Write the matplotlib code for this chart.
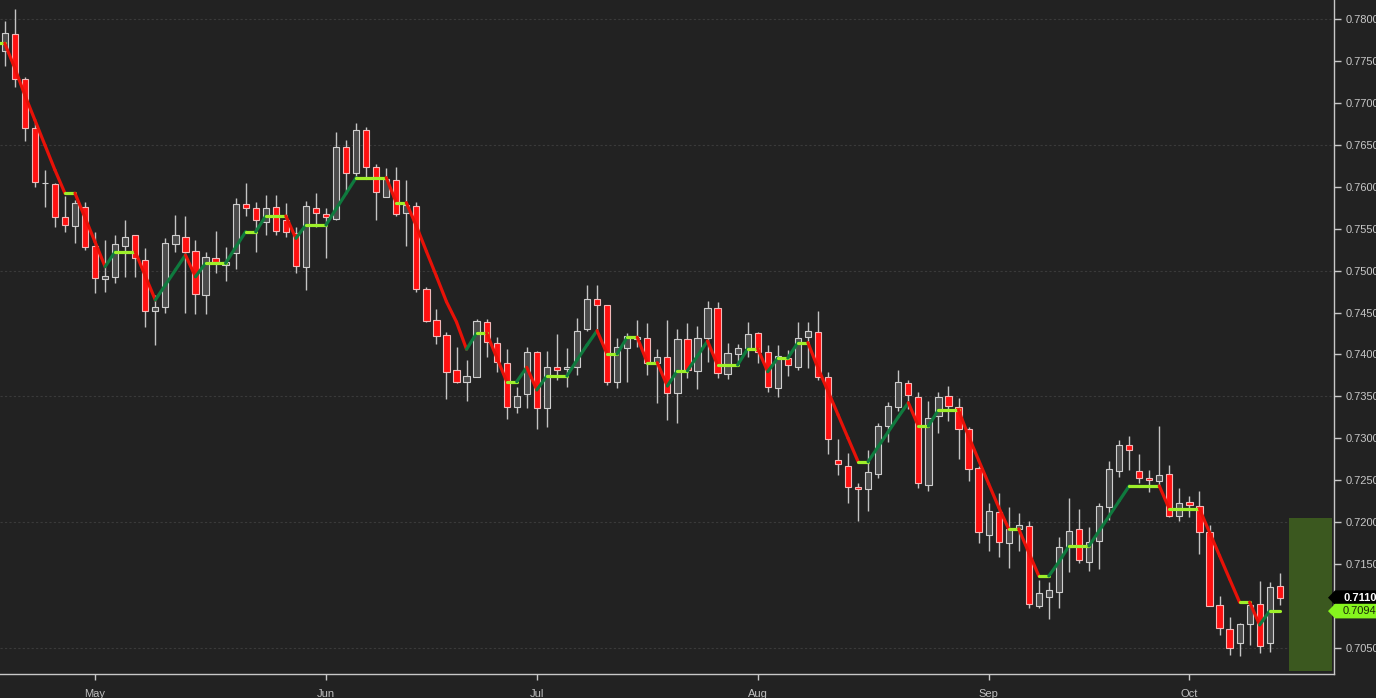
import numpy as np
import pandas as pd
import matplotlib
matplotlib.use("Agg")
import matplotlib.pyplot as plt
from matplotlib.collections import LineCollection
from matplotlib.patches import Polygon, Rectangle

# ---------------- data ----------------
dates = pd.bdate_range("2018-04-18", periods=128)

open_ = [
    0.77618, 0.77821, 0.77285, 0.76700, 0.76045, 0.76033, 0.75639, 0.75532, 0.75758, 0.75293,
    0.74900, 0.74924, 0.75293, 0.75425, 0.75127, 0.74519, 0.74566, 0.75317, 0.75401, 0.75234,
    0.74709, 0.75150, 0.75067, 0.75210, 0.75794, 0.75747, 0.75580, 0.75758, 0.75603, 0.75448,
    0.75043, 0.75747, 0.75675, 0.75621, 0.76477, 0.76160, 0.76677, 0.76239, 0.75881, 0.76080,
    0.75683, 0.75770, 0.74781, 0.74411, 0.74232, 0.73815, 0.73676, 0.73735, 0.74391, 0.74133,
    0.73895, 0.73377, 0.73525, 0.74026, 0.73358, 0.73847, 0.73823, 0.73854, 0.74304, 0.74658,
    0.74586, 0.73668, 0.74081, 0.74185, 0.74193, 0.73895, 0.73967, 0.73544, 0.74181, 0.73807,
    0.74193, 0.74551, 0.73764, 0.74002, 0.74074, 0.74253, 0.74033, 0.73597, 0.73962, 0.73854,
    0.74205, 0.74268, 0.73728, 0.72742, 0.72674, 0.72417, 0.72393, 0.72571, 0.73151, 0.73377,
    0.73657, 0.73497, 0.72440, 0.73267, 0.73505, 0.73377, 0.73108, 0.72643, 0.71848, 0.72118,
    0.71749, 0.71919, 0.71955, 0.71005, 0.71112, 0.71168, 0.71701, 0.71919, 0.71522, 0.71776,
    0.72178, 0.72614, 0.72921, 0.72611, 0.72524, 0.72495, 0.72572, 0.72074, 0.72245, 0.72194,
    0.71880, 0.71010, 0.70723, 0.70564, 0.70783, 0.71021, 0.70564, 0.71240,
]
high = [
    0.77976, 0.78119, 0.77308, 0.76772, 0.76200, 0.76040, 0.75890, 0.75842, 0.75818, 0.75460,
    0.75365, 0.75425, 0.75603, 0.75430, 0.75270, 0.74709, 0.75389, 0.75663, 0.75651, 0.75365,
    0.75222, 0.75472, 0.75282, 0.75866, 0.76045, 0.75818, 0.75902, 0.75902, 0.75806, 0.75520,
    0.75830, 0.75925, 0.75747, 0.76653, 0.76557, 0.76756, 0.76716, 0.76268, 0.76220, 0.76239,
    0.76080, 0.75815, 0.74801, 0.74542, 0.74272, 0.74093, 0.73934, 0.74420, 0.74420, 0.74212,
    0.74065, 0.73616, 0.74093, 0.74045, 0.74045, 0.74244, 0.74074, 0.74431, 0.74828, 0.74828,
    0.74590, 0.74193, 0.74253, 0.74411, 0.74372, 0.74062, 0.74411, 0.74300, 0.74379, 0.74340,
    0.74638, 0.74622, 0.74141, 0.74125, 0.74391, 0.74272, 0.74113, 0.74113, 0.74053, 0.74384,
    0.74384, 0.74519, 0.73795, 0.72989, 0.72822, 0.72464, 0.72861, 0.73187, 0.73437, 0.73815,
    0.73696, 0.73549, 0.73445, 0.73556, 0.73624, 0.73478, 0.73139, 0.72670, 0.72226, 0.72345,
    0.72185, 0.72106, 0.72015, 0.71311, 0.71291, 0.71827, 0.72285, 0.72154, 0.71947, 0.72233,
    0.72734, 0.72980, 0.73028, 0.72810, 0.72623, 0.73147, 0.72682, 0.72412, 0.72313, 0.72372,
    0.71967, 0.71120, 0.70874, 0.70802, 0.71052, 0.71303, 0.71284, 0.71398,
]
low = [
    0.77440, 0.77189, 0.76545, 0.75997, 0.75758, 0.75520, 0.75460, 0.75329, 0.75246, 0.74733,
    0.74745, 0.74852, 0.74924, 0.74924, 0.74328, 0.74113, 0.74495, 0.75222, 0.74495, 0.74483,
    0.74483, 0.74972, 0.74876, 0.75019, 0.75651, 0.75222, 0.75425, 0.75425, 0.75401, 0.74972,
    0.74769, 0.75520, 0.75150, 0.75603, 0.75941, 0.76120, 0.76120, 0.75603, 0.75881, 0.75655,
    0.75297, 0.74749, 0.74384, 0.74125, 0.73469, 0.73664, 0.73449, 0.73728, 0.73966, 0.73795,
    0.73227, 0.73299, 0.73358, 0.73108, 0.73139, 0.73696, 0.73616, 0.73755, 0.74284, 0.74292,
    0.73636, 0.73604, 0.73676, 0.74093, 0.73755, 0.73425, 0.73219, 0.73180, 0.73716, 0.73589,
    0.73914, 0.73723, 0.73704, 0.73875, 0.73974, 0.73902, 0.73556, 0.73490, 0.73744, 0.73815,
    0.73835, 0.73696, 0.72814, 0.72563, 0.72233, 0.72018, 0.72137, 0.72531, 0.72960, 0.73330,
    0.73346, 0.72405, 0.72376, 0.73068, 0.73211, 0.72750, 0.72495, 0.71756, 0.71661, 0.71582,
    0.71451, 0.71661, 0.70981, 0.70981, 0.70843, 0.70977, 0.71410, 0.71510, 0.71422, 0.71439,
    0.72027, 0.72543, 0.72623, 0.72471, 0.72364, 0.72432, 0.72059, 0.72018, 0.72066, 0.71621,
    0.70995, 0.70655, 0.70417, 0.70405, 0.70536, 0.70437, 0.70456, 0.71013,
]
close = [
    0.77833, 0.77285, 0.76700, 0.76057, 0.76050, 0.75639, 0.75544, 0.75806, 0.75282, 0.74912,
    0.74936, 0.75317, 0.75401, 0.75150, 0.74519, 0.74566, 0.75329, 0.75425, 0.75222, 0.74721,
    0.75162, 0.75103, 0.75103, 0.75794, 0.75747, 0.75603, 0.75747, 0.75472, 0.75460, 0.75055,
    0.75770, 0.75687, 0.75639, 0.76477, 0.76160, 0.76677, 0.76239, 0.75941, 0.76092, 0.75675,
    0.75782, 0.74781, 0.74403, 0.74224, 0.73788, 0.73676, 0.73747, 0.74403, 0.74145, 0.73914,
    0.73377, 0.73509, 0.74026, 0.73358, 0.73854, 0.73815, 0.73854, 0.74284, 0.74658, 0.74586,
    0.73668, 0.74086, 0.74224, 0.74208, 0.73895, 0.73974, 0.73544, 0.74181, 0.73815, 0.74193,
    0.74551, 0.73776, 0.74014, 0.74074, 0.74244, 0.74033, 0.73609, 0.73986, 0.73875, 0.74200,
    0.74284, 0.73728, 0.72989, 0.72691, 0.72417, 0.72393, 0.72595, 0.73147, 0.73386, 0.73668,
    0.73517, 0.72464, 0.73239, 0.73490, 0.73386, 0.73108, 0.72631, 0.71880, 0.72134, 0.71761,
    0.71919, 0.71967, 0.71022, 0.71153, 0.71192, 0.71701, 0.71895, 0.71550, 0.71761, 0.72194,
    0.72631, 0.72921, 0.72861, 0.72524, 0.72504, 0.72560, 0.72074, 0.72226, 0.72202, 0.71880,
    0.71005, 0.70735, 0.70497, 0.70787, 0.71013, 0.70524, 0.71231, 0.71100,
]
swing = [
    0.77710, 0.77416, 0.77094, 0.76796, 0.76498, 0.76200, 0.75922, 0.75922, 0.75631, 0.75341,
    0.75047, 0.75226, 0.75226, 0.75226, 0.74936, 0.74650, 0.74828, 0.75007, 0.75186, 0.74927,
    0.75087, 0.75087, 0.75087, 0.75278, 0.75464, 0.75464, 0.75651, 0.75651, 0.75651, 0.75385,
    0.75544, 0.75544, 0.75544, 0.75735, 0.75921, 0.76108, 0.76108, 0.76108, 0.76108, 0.75810,
    0.75810, 0.75532, 0.75230, 0.74932, 0.74629, 0.74387, 0.74062, 0.74253, 0.74253, 0.73966,
    0.73676, 0.73676, 0.73847, 0.73577, 0.73744, 0.73744, 0.73744, 0.73934, 0.74113, 0.74284,
    0.74006, 0.74006, 0.74205, 0.74205, 0.73902, 0.73902, 0.73624, 0.73807, 0.73807, 0.73982,
    0.74161, 0.73875, 0.73875, 0.73875, 0.74069, 0.74069, 0.73795, 0.73958, 0.73958, 0.74141,
    0.74141, 0.73839, 0.73561, 0.73282, 0.73001, 0.72722, 0.72722, 0.72901, 0.73077, 0.73255,
    0.73425, 0.73147, 0.73147, 0.73338, 0.73338, 0.73338, 0.73026, 0.72741, 0.72459, 0.72179,
    0.71919, 0.71919, 0.71639, 0.71359, 0.71359, 0.71526, 0.71717, 0.71717, 0.71717, 0.71895,
    0.72074, 0.72253, 0.72432, 0.72432, 0.72432, 0.72432, 0.72158, 0.72158, 0.72158, 0.72158,
    0.71880, 0.71601, 0.71323, 0.71045, 0.71045, 0.70775, 0.70945, 0.70945,
]
last_price = 0.7110
swing_last = 0.7094
zone_low, zone_high = 0.7022, 0.7205
grid_levels = [0.7050, 0.7200, 0.7350, 0.7500, 0.7650, 0.7800]
tick_levels = [0.7050, 0.7100, 0.7150, 0.7200, 0.7250, 0.7300, 0.7350, 0.7400,
               0.7450, 0.7500, 0.7550, 0.7600, 0.7650, 0.7700, 0.7750, 0.7800]

# ---------------- style ----------------
BG = "#222222"
AXC = "#c8c8c8"
RED = "#ff1010"
GRAYBODY = "#4b4b4b"
WICK = "#c4c4c4"
LINE_DOWN = "#e81208"
LINE_UP = "#0f7a3e"
LINE_FLAT = "#9ef02a"
FONT = ["Liberation Sans", "DejaVu Sans"]
plt.rcParams["font.family"] = FONT

W, H = 1376, 698
fig = plt.figure(figsize=(W / 100, H / 100), dpi=100, facecolor=BG)
ax = fig.add_axes([0, 24 / H, 1334 / W, 674 / H])
ax.set_facecolor(BG)

n = len(close)
x = np.arange(n)
o = np.array(open_); c = np.array(close); h = np.array(high); l = np.array(low)
up = c >= o

ax.set_xlim(-0.47, 132.4)
ax.set_ylim(0.70190, 0.782265)

for g in grid_levels:
    ax.axhline(g, color="#3a3a3a", lw=0.8, ls=(0, (2, 2)), zorder=0.5)

# wicks
ax.vlines(x, l, h, color=WICK, lw=1.0, zorder=2)
# bodies
bottoms = np.minimum(o, c)
heights = np.maximum(np.abs(c - o), 0.00004)
cols = [GRAYBODY if u else RED for u in up]
edges = ["#cfcfcf" if u else "#f2b8b8" for u in up]
ax.bar(x, heights, bottom=bottoms, width=0.62, color=cols, edgecolor=edges,
       linewidth=0.8, zorder=3)

# swing line (one value per candle) coloured by direction
sx = np.concatenate([[-1], x])
sy = np.concatenate([[swing[0]], swing])
segs, scol = [], []
for i in range(len(sx) - 1):
    segs.append([(sx[i], sy[i]), (sx[i + 1], sy[i + 1])])
    if sy[i + 1] < sy[i]:
        scol.append(LINE_DOWN)
    elif sy[i + 1] > sy[i]:
        scol.append(LINE_UP)
    else:
        scol.append(LINE_FLAT)
lc = LineCollection(segs, colors=scol, linewidths=2.3, capstyle="round", zorder=4)
ax.add_collection(lc)

# projection zone
ax.add_patch(Rectangle((n - 1 + 0.92, zone_low), 4.3, zone_high - zone_low,
                       facecolor="#3b581f", edgecolor="none", zorder=1))

# axes styling
for s in ["top", "left"]:
    ax.spines[s].set_visible(False)
for s in ["right", "bottom"]:
    ax.spines[s].set_color(AXC)
    ax.spines[s].set_linewidth(1.0)

ax.yaxis.tick_right()
ax.set_yticks(tick_levels)
# the 0.7100 label sits under the price tags, as in the original
ax.set_yticklabels(["" if abs(v - 0.7100) < 1e-9 else f"{v:.5f}" for v in tick_levels])
ax.tick_params(axis="y", colors=AXC, labelcolor=AXC, length=5, width=1,
               pad=3.5, labelsize=8)

month_idx = [i for i in range(1, n) if dates[i].month != dates[i - 1].month]
ax.set_xticks(month_idx)
ax.set_xticklabels([dates[i].strftime("%b") for i in month_idx])
ax.tick_params(axis="x", colors=AXC, labelcolor="#c0c0c0", length=4, width=1,
               pad=7, labelsize=8)

# price tags on the right axis
def tag(value, face, textcolor, weight):
    yd = ax.transData.transform((0, value))[1]
    hh = 7.3
    pts = [(1328, yd), (1335, yd + hh), (1385, yd + hh), (1385, yd - hh), (1335, yd - hh)]
    pts = [(px / W, py / H) for px, py in pts]
    fig.add_artist(Polygon(pts, closed=True, transform=fig.transFigure,
                           facecolor=face, edgecolor="none", clip_on=False, zorder=10))
    fig.text(1343 / W, yd / H, f"{value:.5f}", color=textcolor, fontsize=8,
             fontweight=weight, va="center", ha="left", zorder=11)

tag(last_price, "#000000", "#ffffff", "bold")
tag(swing_last, "#86f51e", "#1a2a08", "normal")

fig.savefig("out.png", dpi=100, facecolor=BG)
